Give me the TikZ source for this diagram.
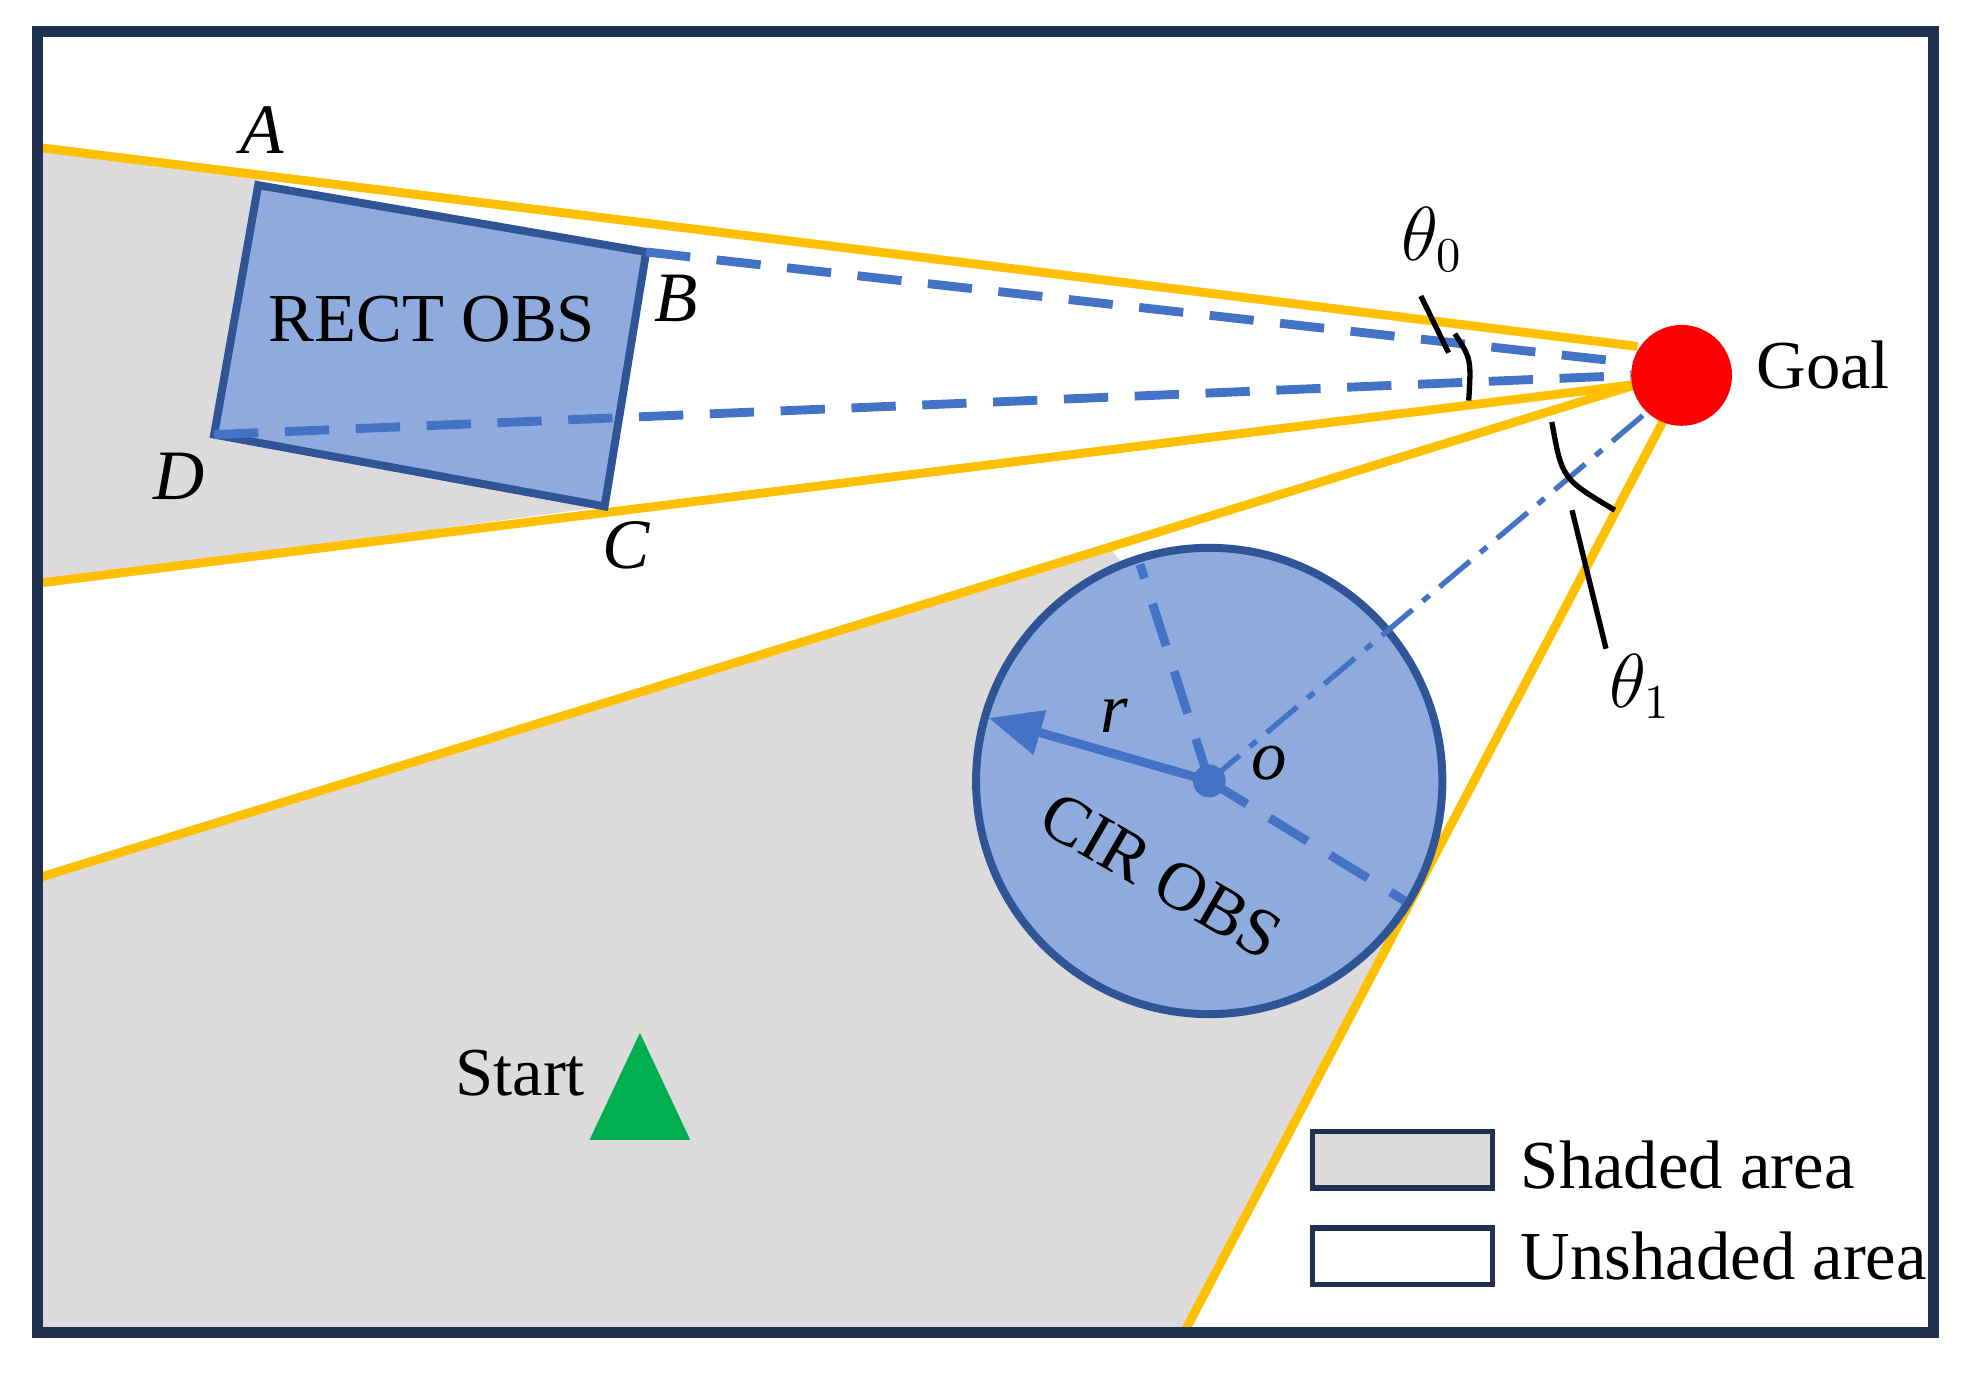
\documentclass[tikz,border=0pt]{standalone}
\usepackage{fontspec}
\setmainfont{Liberation Serif}
\usetikzlibrary{arrows.meta}
\definecolor{navy}{HTML}{1F3050}
\definecolor{gold}{HTML}{FFC000}
\definecolor{shgray}{HTML}{DCDADA}
\definecolor{obs}{HTML}{8FAADC}
\definecolor{obsb}{HTML}{2F5597}
\definecolor{blu}{HTML}{4472C4}
\definecolor{stgreen}{HTML}{00B050}
\tikzset{
 lbl/.style={font=\fontsize{15.5}{18}\selectfont},
 ilbl/.style={font=\fontsize{16}{18}\selectfont\itshape},
 yl/.style={gold, line width=2pt},
 bd/.style={blu, line width=2pt, dash pattern=on 10pt off 6pt},
}
\begin{document}
\begin{tikzpicture}[x=0.01cm,y=-0.01cm]
\useasboundingbox (0,0) rectangle (1560,1090);
% shaded areas
\fill[shgray] (30,117) -- (207,139) -- (205,147) -- (170,345) -- (480,402) -- (30,463) -- cycle;
\fill[shgray] (30,697) -- (880,434) -- (1119,715) -- (940,1058) -- (30,1058) -- cycle;
% goal
\coordinate (g1) at (1300,275);
\coordinate (g2) at (1300,305);
\coordinate (g3) at (1320,335);
% yellow lines
\coordinate (l1) at (30,117);
\coordinate (l2) at (30,463);
\coordinate (l3) at (30,697);
\coordinate (l4) at (940,1058);
\draw[yl] (l1) -- (g1);
\draw[yl] (l2) -- (g2);
\draw[yl] (l3) -- (g2);
\draw[yl] (l4) -- (g3);
% rect obstacle
\coordinate (A) at (205,147);
\coordinate (B) at (513,200);
\coordinate (C) at (480,402);
\coordinate (D) at (170,345);
\draw[obsb, fill=obs, line width=1.8pt] (A) -- (B) -- (C) -- (D) -- cycle;
\node[lbl] (rl) at (343,253) {RECT OBS};
\draw[bd] (B) -- (1295,288);
\draw[bd] (D) -- (1295,298);
\node[ilbl] (la) at (208,103) {A};
\node[ilbl] (lb) at (537,237) {B};
\node[ilbl] (lc) at (497,433) {C};
\node[ilbl] (ld) at (142,378) {D};
% circle obstacle
\node[circle, draw=obsb, fill=obs, line width=1.8pt, inner sep=0, minimum size=3.7cm] (cir) at (960,620) {};
\coordinate (o) at (960,620);
\draw[bd] (o) -- (905,448);
\draw[bd] (o) -- (1115,715);
\draw[blu, line width=1.2pt, dash pattern=on 9pt off 3pt on 2pt off 3pt] (o) -- (1310,325);
\draw[blu, line width=2pt, -{Triangle[length=12pt,width=10pt]}] (o) -- (785,570);
\fill[blu] (o) circle (13);
\node[ilbl] (lr) at (885,568) {r};
\node[ilbl] (lo) at (1008,606) {o};
\node[lbl, rotate=-30] (co) at (922,695) {CIR OBS};
% goal circle
\node[circle, fill=red, minimum size=0.8cm, inner sep=0] (goal) at (1335,298) {};
\node[lbl, anchor=west] (gl) at (1382,290) {Goal};
% angles
\draw[line width=1.2pt] (1155,265) .. controls (1168,285) .. (1166,318);
\draw[line width=1.2pt] (1128,235) -- (1150,280);
\node[ilbl] (t0) at (1137,190) {$\theta_0$};
\draw[line width=1.2pt] (1232,335) .. controls (1240,380) .. (1282,405);
\draw[line width=1.2pt] (1248,405) -- (1275,515);
\node[ilbl] (t1) at (1302,545) {$\theta_1$};
% start
\node[lbl] (st) at (413,852) {Start};
\fill[stgreen] (508,820) -- (548,905) -- (468,905) -- cycle;
% legend
\draw[navy, fill=shgray, line width=1.2pt] (1042,898) rectangle (1185,943);
\node[lbl, anchor=west] (sa) at (1195,925) {Shaded area};
\draw[navy, fill=white, line width=1.2pt] (1042,975) rectangle (1185,1020);
\node[lbl, anchor=west] (ua) at (1195,997) {Unshaded area};
% frame
\draw[navy, line width=2.5pt] (30,25) rectangle (1535,1058);
\end{tikzpicture}
\end{document}
